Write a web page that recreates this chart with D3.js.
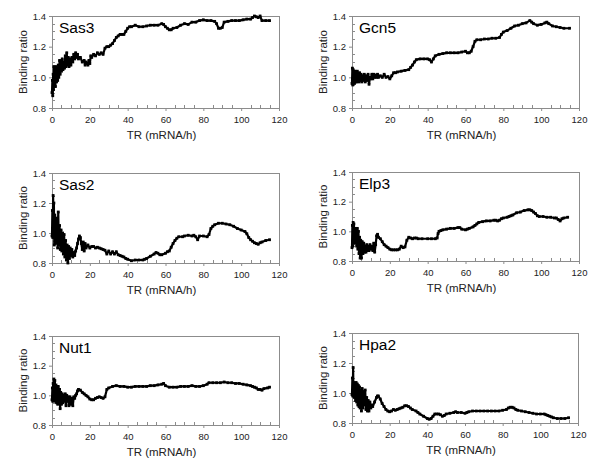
<!DOCTYPE html>
<html><head><meta charset="utf-8">
<script src="https://cdn.jsdelivr.net/npm/d3@7"></script>
<style>
body{margin:0;background:#fff;}
svg{display:block;font-family:"Liberation Sans",Arial,Helvetica,sans-serif;}
</style></head>
<body><svg id="chart" width="600" height="470"></svg>
<script>
const panelNames = ["Sas3","Gcn5","Sas2","Elp3","Nut1","Hpa2"];
const xTicks = [0,20,40,60,80,100,120];
const yTicks = [0.8,1.0,1.2,1.4];
const xTitle = "TR (mRNA/h)";
const yTitle = "Binding ratio";

const sas3 = [[0,0.90],[0.2,0.98],[0.4,0.88],[0.6,1.02],[0.8,0.92],[1.0,1.07],[1.2,0.95],[1.5,1.06],[1.8,0.94],[2.1,1.07],[2.4,0.97],[2.7,1.05],[3.0,0.98],[3.3,1.08],[3.6,1.0],[4.0,1.11],[4.3,1.02],[4.7,1.10],[5.0,1.04],[5.4,1.12],[5.8,1.05],[6.2,1.10],[6.6,1.06],[7.0,1.14],[7.4,1.07],[7.8,1.16],[8.2,1.08],[8.6,1.13],[9.0,1.07],[9.5,1.12],[10.0,1.08],[10.5,1.13],[11.0,1.10],[11.5,1.15],[12.0,1.12],[12.5,1.16],[13.0,1.13],[13.5,1.15],[14.0,1.12],[15,1.13],[16,1.10],[17,1.11],[17.5,1.08],[18,1.10],[19,1.08],[19.5,1.11],[20,1.09],[20.5,1.14],[21,1.13],[22,1.15],[23,1.14],[24,1.16],[25,1.15],[26,1.16],[27,1.15],[28,1.19],[29,1.20],[30,1.20],[31,1.21],[32,1.22],[33,1.24],[34,1.26],[35,1.27],[36,1.28],[37,1.28],[38,1.28],[39,1.30],[40,1.32],[41,1.33],[42,1.33],[44,1.34],[46,1.33],[48,1.33],[50,1.335],[52,1.34],[54,1.34],[56,1.34],[58,1.35],[59,1.345],[60,1.33],[61,1.32],[62,1.31],[63,1.31],[64,1.32],[66,1.325],[68,1.34],[70,1.35],[72,1.345],[74,1.36],[76,1.36],[78,1.37],[80,1.375],[82,1.37],[84,1.37],[86,1.365],[87,1.35],[88,1.32],[89,1.32],[90,1.325],[91,1.36],[93,1.365],[95,1.37],[97,1.37],[99,1.37],[101,1.375],[103,1.38],[105,1.38],[106,1.39],[107,1.40],[108,1.395],[109,1.39],[110,1.40],[111,1.37],[113,1.37],[115,1.37]];

const gcn5 = [[0,0.96],[0.2,1.06],[0.4,0.95],[0.6,1.05],[0.8,0.97],[1.0,1.04],[1.3,0.96],[1.6,1.04],[1.9,0.97],[2.2,1.03],[2.5,0.97],[2.8,1.04],[3.1,0.98],[3.4,1.02],[3.7,0.97],[4.0,1.03],[4.4,0.98],[4.8,1.02],[5.2,0.97],[5.6,1.01],[6.0,0.98],[6.5,1.02],[7.0,0.97],[7.5,1.01],[8.0,0.98],[8.5,1.02],[9.0,0.955],[9.5,1.0],[10,0.99],[10.5,1.02],[11,0.99],[11.5,1.02],[12,1.0],[12.5,1.015],[13,1.0],[13.5,1.02],[14,1.0],[15,1.01],[16,1.0],[17,1.02],[18,1.0],[19,1.005],[20,0.99],[21,1.01],[22,1.03],[23,1.03],[24,1.035],[26,1.04],[28,1.045],[30,1.05],[31,1.065],[32,1.08],[33,1.10],[34,1.115],[36,1.12],[38,1.12],[40,1.12],[41,1.115],[42,1.10],[43,1.12],[44,1.14],[46,1.15],[48,1.155],[50,1.16],[52,1.16],[54,1.16],[56,1.16],[58,1.165],[60,1.17],[61,1.16],[62,1.16],[63,1.17],[64,1.20],[65,1.235],[66,1.245],[68,1.245],[70,1.25],[72,1.25],[74,1.255],[76,1.255],[78,1.26],[79,1.28],[80,1.295],[82,1.305],[84,1.32],[86,1.335],[88,1.34],[90,1.35],[92,1.355],[94,1.37],[95,1.36],[96,1.35],[98,1.34],[100,1.345],[102,1.355],[103,1.36],[104,1.35],[106,1.335],[108,1.33],[110,1.325],[112,1.32],[115,1.32]];

const sas2 = [[0,0.98],[0.2,1.15],[0.4,0.97],[0.6,1.25],[0.8,1.0],[1.0,1.2],[1.2,0.92],[1.5,1.12],[1.8,0.93],[2.1,1.08],[2.4,0.95],[2.7,1.1],[3.0,0.9],[3.3,1.14],[3.6,0.92],[4.0,1.05],[4.4,0.89],[4.8,1.02],[5.2,0.88],[5.6,1.0],[6.0,0.86],[6.4,0.99],[6.8,0.84],[7.2,0.95],[7.6,0.82],[8.0,0.92],[8.4,0.80],[8.8,0.91],[9.2,0.83],[9.6,0.90],[10,0.85],[10.5,0.89],[11,0.84],[11.5,0.87],[12,0.85],[12.5,0.88],[13,0.90],[13.5,0.93],[14,0.96],[14.5,0.98],[15,0.97],[15.5,0.93],[16,0.89],[16.5,0.94],[17,0.88],[17.5,0.93],[18,0.90],[19,0.92],[20,0.90],[21,0.91],[22,0.91],[23,0.90],[24,0.905],[25,0.90],[26,0.895],[27,0.89],[28,0.885],[29,0.86],[30,0.88],[31,0.86],[32,0.875],[33,0.86],[34,0.875],[35,0.855],[36,0.85],[37,0.845],[38,0.84],[39,0.83],[40,0.825],[42,0.815],[44,0.82],[46,0.82],[48,0.82],[49,0.825],[50,0.83],[52,0.845],[54,0.86],[55,0.87],[56,0.865],[57,0.855],[58,0.855],[60,0.865],[61,0.875],[62,0.88],[63,0.905],[64,0.93],[65,0.95],[66,0.965],[67,0.975],[69,0.975],[70,0.98],[72,0.985],[74,0.98],[75,0.985],[76,0.975],[77,0.955],[78,0.98],[80,0.98],[82,0.975],[83,0.99],[84,1.03],[85,1.045],[86,1.055],[88,1.065],[90,1.065],[92,1.06],[94,1.055],[96,1.045],[98,1.03],[100,1.02],[102,1.01],[103,0.995],[104,0.97],[105,0.955],[106,0.945],[107,0.935],[108,0.93],[109,0.925],[110,0.935],[111,0.94],[113,0.95],[115,0.955]];

const elp3 = [[0,0.89],[0.2,1.04],[0.4,0.90],[0.6,1.06],[0.8,0.92],[1.0,1.05],[1.3,0.93],[1.6,1.02],[1.9,0.92],[2.2,1.0],[2.5,0.90],[2.8,1.02],[3.1,0.88],[3.4,1.0],[3.7,0.85],[4.0,0.96],[4.3,0.82],[4.6,0.94],[5.0,0.82],[5.4,0.93],[5.8,0.85],[6.2,0.92],[6.6,0.86],[7.0,0.90],[7.4,0.86],[7.8,0.91],[8.2,0.87],[8.6,0.90],[9.0,0.87],[9.5,0.91],[10,0.88],[10.5,0.90],[11,0.87],[11.5,0.92],[12,0.86],[12.5,0.91],[13,0.97],[13.5,0.98],[14,0.96],[15,0.95],[16,0.93],[17,0.91],[18,0.90],[19,0.89],[20,0.88],[21,0.875],[22,0.875],[23,0.875],[24,0.875],[25,0.88],[26,0.90],[27,0.89],[28,0.895],[29,0.94],[30,0.96],[31,0.955],[32,0.95],[33,0.955],[34,0.955],[35,0.95],[37,0.95],[40,0.95],[42,0.95],[44,0.95],[45,0.955],[45.5,0.985],[46,1.0],[47,1.005],[48,1.01],[50,1.015],[52,1.02],[54,1.02],[56,1.025],[57,1.025],[58,1.015],[60,1.01],[61,1.015],[62,1.02],[64,1.03],[65,1.04],[66,1.05],[67,1.06],[69,1.065],[71,1.07],[73,1.07],[75,1.075],[76,1.075],[77,1.07],[78,1.075],[79,1.085],[80,1.09],[82,1.095],[83,1.10],[84,1.105],[85,1.11],[87,1.125],[89,1.13],[91,1.14],[93,1.145],[94,1.145],[95,1.14],[96,1.13],[97,1.12],[98,1.105],[99,1.10],[101,1.10],[103,1.095],[105,1.095],[107,1.09],[108,1.09],[109,1.08],[110,1.07],[111,1.085],[112,1.09],[114,1.095]];

const nut1 = [[0,0.97],[0.2,1.05],[0.4,0.96],[0.6,1.08],[0.8,0.98],[1.0,1.11],[1.2,0.97],[1.5,1.10],[1.8,0.96],[2.1,1.07],[2.4,0.95],[2.7,1.06],[3.0,0.94],[3.3,1.06],[3.6,0.95],[4.0,1.04],[4.3,0.91],[4.6,1.02],[5.0,0.94],[5.4,1.01],[5.8,0.95],[6.2,1.0],[6.6,0.96],[7.0,1.01],[7.4,0.93],[7.8,1.0],[8.2,0.96],[8.6,0.99],[9.0,0.93],[9.5,0.99],[10,0.94],[10.5,0.98],[11,0.93],[11.5,0.99],[12,0.98],[12.5,1.0],[13,1.01],[13.5,1.03],[14,1.04],[15,1.035],[16,1.02],[17,1.01],[18,1.0],[19,0.99],[20,0.975],[21,0.97],[22,0.97],[23,0.98],[24,0.985],[25,0.99],[26,0.985],[27,0.98],[28,0.99],[29,1.04],[30,1.05],[32,1.06],[34,1.065],[36,1.06],[38,1.06],[40,1.055],[42,1.055],[44,1.06],[46,1.06],[48,1.06],[50,1.06],[52,1.065],[54,1.065],[56,1.07],[58,1.075],[59,1.08],[60,1.065],[62,1.055],[64,1.055],[66,1.055],[68,1.06],[70,1.06],[72,1.06],[74,1.065],[76,1.06],[78,1.06],[80,1.065],[82,1.075],[83,1.085],[85,1.085],[87,1.085],[89,1.085],[91,1.09],[93,1.085],[95,1.085],[97,1.08],[99,1.08],[101,1.075],[103,1.07],[105,1.065],[106,1.06],[107,1.055],[108,1.05],[109,1.04],[110,1.04],[111,1.035],[112,1.045],[114,1.05],[115,1.055]];

const hpa2 = [[0,0.99],[0.2,1.10],[0.4,0.98],[0.6,1.17],[0.8,0.98],[1.0,1.07],[1.3,0.97],[1.6,1.06],[1.9,0.95],[2.2,1.07],[2.5,0.94],[2.8,1.06],[3.1,0.92],[3.4,1.05],[3.7,0.91],[4.0,1.04],[4.3,0.90],[4.6,1.02],[5.0,0.88],[5.4,1.03],[5.8,0.90],[6.2,1.01],[6.6,0.92],[7.0,1.02],[7.4,0.89],[7.8,0.97],[8.2,0.88],[8.6,0.95],[9.0,0.88],[9.5,0.94],[10,0.90],[10.5,0.92],[11,0.91],[12,0.94],[13,0.97],[13.5,0.98],[14,0.98],[15,0.96],[16,0.93],[17,0.91],[18,0.89],[19,0.88],[20,0.875],[21,0.88],[22,0.89],[23,0.885],[24,0.89],[25,0.895],[26,0.90],[27,0.905],[28,0.915],[29,0.915],[30,0.91],[31,0.90],[32,0.89],[34,0.88],[35,0.87],[36,0.86],[38,0.845],[40,0.83],[41,0.825],[42,0.83],[43,0.845],[44,0.86],[45,0.86],[46,0.86],[47,0.855],[48,0.845],[49,0.85],[50,0.86],[52,0.865],[54,0.87],[55,0.875],[56,0.87],[58,0.87],[60,0.865],[61,0.87],[62,0.875],[64,0.88],[66,0.88],[68,0.88],[70,0.88],[72,0.88],[74,0.88],[76,0.88],[78,0.88],[80,0.885],[82,0.89],[83,0.90],[84,0.905],[85,0.905],[86,0.90],[87,0.89],[88,0.885],[90,0.88],[92,0.875],[94,0.87],[96,0.865],[98,0.86],[100,0.86],[102,0.86],[103,0.855],[104,0.85],[105,0.845],[106,0.84],[107,0.835],[109,0.83],[111,0.83],[113,0.83],[115,0.835]];

const seriesData = [sas3, gcn5, sas2, elp3, nut1, hpa2];

// layout (pixel frames for each panel)
const frames = [
  {l:52, t:16, r:279, b:108},
  {l:352, t:16, r:579, b:108},
  {l:52, t:173, r:279, b:263},
  {l:352, t:172, r:579, b:261},
  {l:52, t:336, r:279, b:425},
  {l:352, t:333, r:578, b:423}
];

const svg = d3.select("#chart");
const axisColor = "#8c8c8c";
const textColor = "#222";

frames.forEach((f, i) => {
  const data = seriesData[i];
  const x = d3.scaleLinear().domain([0,120]).range([f.l, f.r]);
  const y = d3.scaleLinear().domain([0.8,1.4]).range([f.b, f.t]);
  const g = svg.append("g");

  g.append("rect").attr("x", f.l).attr("y", f.t)
    .attr("width", f.r - f.l).attr("height", f.b - f.t)
    .attr("fill", "none").attr("stroke", axisColor).attr("stroke-width", 1)
    .attr("shape-rendering", "crispEdges");

  const xMinor = d3.range(0, 121, 5).filter(v => v % 20 !== 0);
  g.selectAll(".xm").data(xMinor).enter().append("line")
    .attr("x1", d => Math.round(x(d)) + 0.5).attr("x2", d => Math.round(x(d)) + 0.5)
    .attr("y1", f.b).attr("y2", f.b - 3)
    .attr("stroke", axisColor);
  const yMinor = [0.85,0.9,0.95,1.05,1.1,1.15,1.25,1.3,1.35];
  g.selectAll(".ym").data(yMinor).enter().append("line")
    .attr("y1", d => Math.round(y(d)) + 0.5).attr("y2", d => Math.round(y(d)) + 0.5)
    .attr("x1", f.l).attr("x2", f.l + 3)
    .attr("stroke", axisColor);

  const xAxis = d3.axisBottom(x).tickValues(xTicks).tickSize(3).tickPadding(5).tickFormat(d3.format("d"));
  const gx = g.append("g").attr("transform", `translate(0,${f.b})`).call(xAxis);
  const yAxis = d3.axisLeft(y).tickValues(yTicks).tickSize(3).tickPadding(3).tickFormat(d3.format(".1f"));
  const gy = g.append("g").attr("transform", `translate(${f.l},0)`).call(yAxis);
  [gx, gy].forEach(a => {
    a.select(".domain").attr("stroke", axisColor);
    a.selectAll(".tick line").attr("stroke", axisColor);
    a.selectAll(".tick text").attr("fill", textColor)
      .style("font-size", "9.5px").style("font-family", '"Liberation Sans",Arial,sans-serif');
  });

  const line = d3.line().x(d => x(d[0])).y(d => y(d[1]));
  g.append("path").datum(data).attr("d", line)
    .attr("fill", "none").attr("stroke", "#000").attr("stroke-width", 2.2)
    .attr("stroke-linejoin", "round");
  g.selectAll(".pt").data(data).enter().append("rect")
    .attr("x", d => x(d[0]) - 1.4).attr("y", d => y(d[1]) - 1.4)
    .attr("width", 2.8).attr("height", 2.8).attr("fill", "#000");

  g.append("text").attr("x", f.l + 7).attr("y", f.t + 17)
    .attr("fill", "#000").style("font-size", "15.5px").text(panelNames[i]);

  g.append("text").attr("x", (f.l + f.r) / 2 - 4).attr("y", f.b + 31)
    .attr("text-anchor", "middle").attr("fill", textColor)
    .style("font-size", "11.5px").text(xTitle);
  g.append("text")
    .attr("transform", `translate(${f.l - 25},${(f.t + f.b) / 2}) rotate(-90)`)
    .attr("text-anchor", "middle").attr("fill", textColor)
    .style("font-size", "11.5px").text(yTitle);
});
</script></body></html>
